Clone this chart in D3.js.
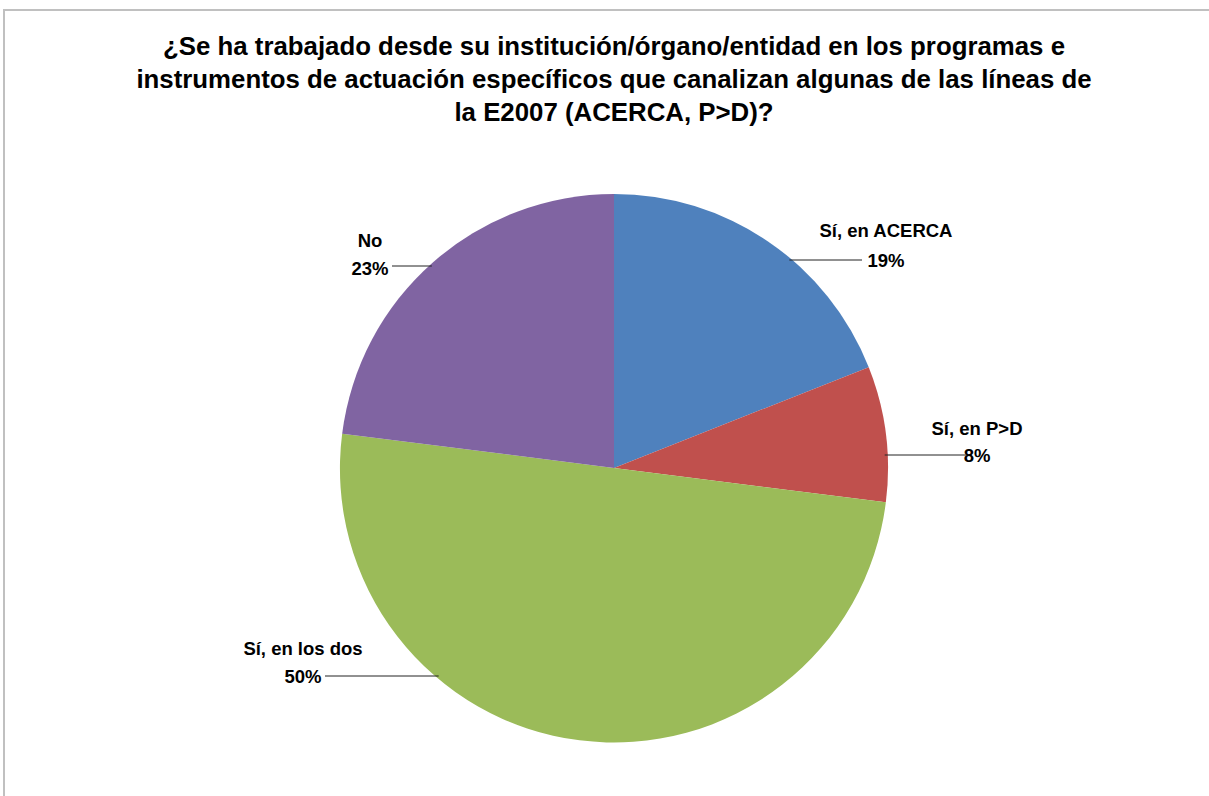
<!DOCTYPE html>
<html><head><meta charset="utf-8">
<script src="https://cdn.jsdelivr.net/npm/d3@7"></script>
<style>body{margin:0;background:#fff}svg{display:block}</style>
</head><body>
<svg id="c" width="1209" height="796"></svg>
<script>
const titleLines = ["¿Se ha trabajado desde su institución/órgano/entidad en los programas e",
  "instrumentos de actuación específicos que canalizan algunas de las líneas de",
  "la E2007 (ACERCA, P>D)?"];
const categories = ["Sí, en ACERCA", "Sí, en P>D", "Sí, en los dos", "No"];
const values = [19, 8, 50, 23];
const colors = ["#4f81bd", "#c0504d", "#9bbb59", "#8064a2"];

const svg = d3.select("#c");
const font = "'Liberation Sans',Arial,sans-serif";
svg.append("rect").attr("x",4).attr("y",10).attr("width",1220).attr("height",800)
  .attr("fill","#fff").attr("stroke","#c0c0c0").attr("stroke-width",2);

const cx = 614, cy = 468, r = 274;
const g = svg.append("g").attr("transform",`translate(${cx},${cy})`);
const pie = d3.pie().sort(null).value(d=>d);
const arcs = pie(values);
const arc = d3.arc().innerRadius(0).outerRadius(r);
g.selectAll("path").data(arcs).enter().append("path")
  .attr("d",arc).attr("fill",(d,i)=>colors[i]);

// title
const tg = svg.append("g");
const tbase = [55, 88, 121];
const tfs = 25;
const lines = titleLines.map((t,i)=>
  tg.append("text").attr("x",614).attr("y",tbase[i]).attr("text-anchor","middle")
    .attr("font-family",font).attr("font-weight","bold").attr("font-size",tfs)
    .attr("fill","#000").text(t));
const targetW1 = 902;
const k = targetW1 / lines[0].node().getComputedTextLength();
lines.forEach(s=>{
  const w = s.node().getComputedTextLength()*k;
  s.attr("textLength",w).attr("lengthAdjust","spacingAndGlyphs");
});

// labels (layout)
const labelPos = [
  {x:886, y1:237, y2:267, ly:260, side:1, lx:862},
  {x:977, y1:435, y2:462, ly:455, side:1, lx:972},
  {x:303, y1:655, y2:683, ly:676, side:-1, lx:325},
  {x:370, y1:247, y2:275, ly:266, side:-1, lx:392}
];
arcs.forEach((a,i)=>{
  const p = labelPos[i];
  const dy = p.ly - cy;
  const ex = cx + p.side*(Math.sqrt(r*r-dy*dy) - 3);
  svg.append("line").attr("x1",ex).attr("y1",p.ly).attr("x2",p.lx).attr("y2",p.ly)
    .attr("stroke","#222").attr("stroke-width",1);
  svg.append("text").attr("x",p.x).attr("y",p.y1).attr("text-anchor","middle")
    .attr("font-family",font).attr("font-weight","bold").attr("font-size",18.5).text(categories[i]);
  svg.append("text").attr("x",p.x).attr("y",p.y2).attr("text-anchor","middle")
    .attr("font-family",font).attr("font-weight","bold").attr("font-size",18.5).text(d3.format(".0%")(a.value/100));
});
</script>
</body></html>
